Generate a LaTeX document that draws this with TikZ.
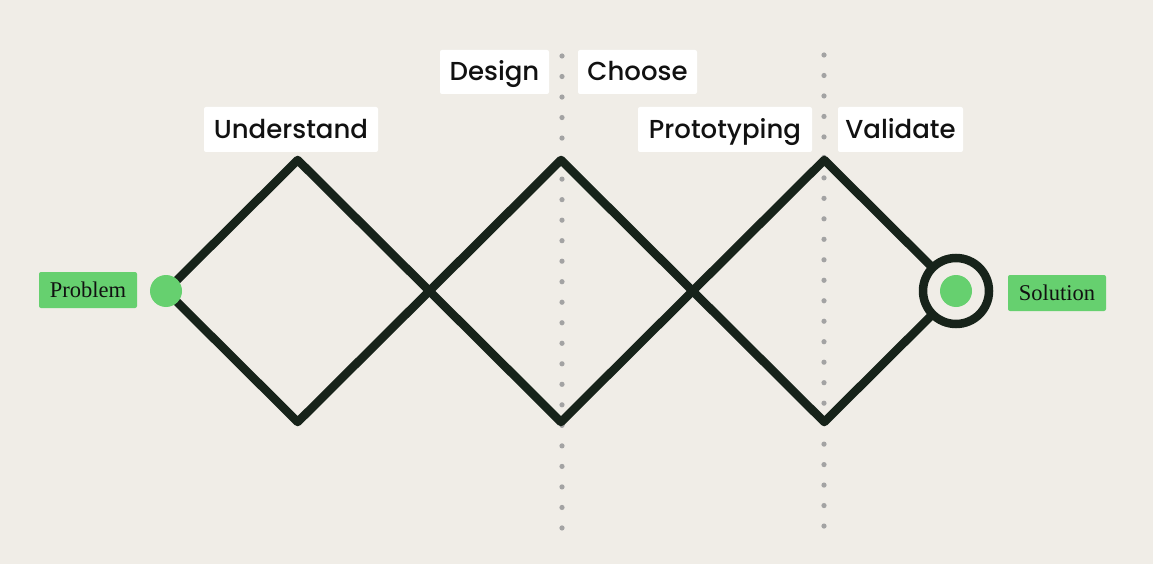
\documentclass[tikz,border=0pt]{standalone}
\usepackage{fontspec}
\newfontfamily\labfont{Poppins Medium}
\setmainfont{Liberation Serif}
\definecolor{bgc}{HTML}{F0EDE7}
\definecolor{linec}{HTML}{17231A}
\definecolor{greenc}{HTML}{66D06F}
\definecolor{dotc}{HTML}{A3A3A3}
\definecolor{txtc}{HTML}{111111}
\tikzset{
  phase/.style={fill=white, rounded corners=2pt, inner sep=0pt, text=txtc,
    text height=18pt, text depth=0pt,
    font=\labfont\fontsize{26}{30}\selectfont},
  endlabel/.style={fill=greenc, rounded corners=2pt, inner sep=0pt, text=txtc,
    text height=14pt, text depth=0pt,
    minimum width=98pt, minimum height=36pt, font=\fontsize{22.5}{26}\selectfont},
  flow/.style={draw=linec, line width=8.5pt, line join=round, line cap=round},
  gdot/.style={circle, fill=greenc, minimum size=32pt, inner sep=0pt},
}
\begin{document}
\begin{tikzpicture}[x=1pt,y=-1pt]
\fill[bgc] (0,0) rectangle (1153,564);
\useasboundingbox (0,0) rectangle (1153,564);
% dotted separators
\foreach \i in {0,...,23} {
  \fill[dotc] (562,56+\i*20.52) circle (2.6);
  \fill[dotc] (824,55+\i*20.48) circle (2.6);
}
% vertices
\coordinate (t1) at (297.7,160);
\coordinate (b1) at (297.7,422);
\coordinate (t2) at (561,160);
\coordinate (b2) at (561,422);
\coordinate (t3) at (824.3,160);
\coordinate (b3) at (824.3,422);
\coordinate (pc) at (166,291);
\coordinate (sc) at (956,291);
\draw[flow] (pc) -- (t1) -- (b2) -- (t3) -- (sc);
\draw[flow] (pc) -- (b1) -- (t2) -- (b3) -- (sc);
% end markers
\node[gdot] (prob) at (pc) {};
\draw[draw=linec, line width=8.5pt, fill=bgc] (sc) circle (33);
\node[gdot] (sol) at (sc) {};
% labels
\node[endlabel] (problem) at (88,290) {Problem};
\node[endlabel] (solution) at (1057,293) {Solution};
\node[phase, minimum width=174pt, minimum height=45pt] (understand) at (291,129.5) {Understand};
\node[phase, minimum width=109pt, minimum height=44pt] (design) at (494.5,72) {Design};
\node[phase, minimum width=119pt, minimum height=44pt] (choose) at (637.5,72) {Choose};
\node[phase, minimum width=174pt, minimum height=45pt] (proto) at (725,129.5) {Prototyping};
\node[phase, minimum width=125pt, minimum height=45pt] (validate) at (900.5,129.5) {Validate};
\end{tikzpicture}
\end{document}
